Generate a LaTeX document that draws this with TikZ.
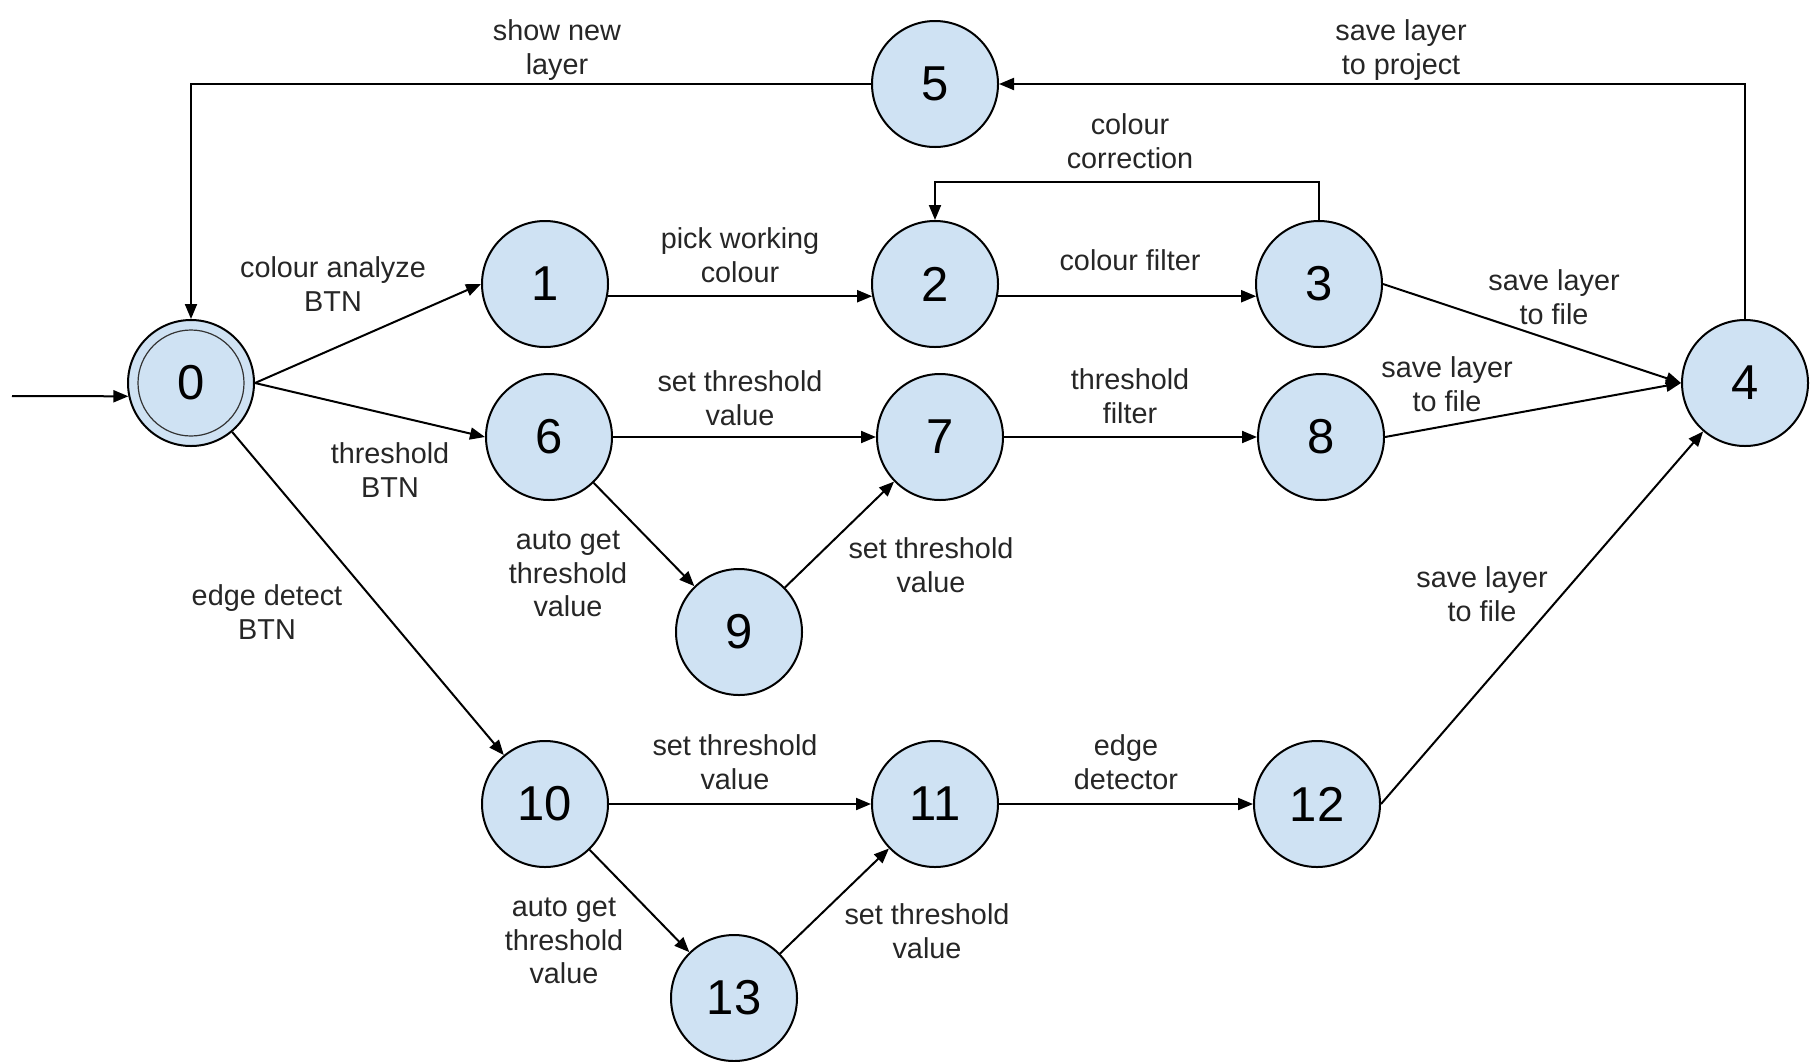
\documentclass[tikz,border=0pt]{standalone}
\usepackage{fontspec}
\setmainfont{Liberation Sans}
\usetikzlibrary{arrows.meta}
\definecolor{statefill}{HTML}{CFE2F3}

\begin{document}
\begin{tikzpicture}[x=0.5pt,y=-0.5pt,
    st/.style={circle,draw,line width=1pt,fill=statefill,minimum size=63pt,inner sep=0pt,
        font=\fontsize{24.5}{28}\selectfont},
    lbl/.style={align=center,inner sep=0pt,text=black!85,font=\fontsize{14.4}{16.8}\selectfont},
    trans/.style={line width=1pt,-{Triangle[length=7.5pt,width=6pt]}}]
    \useasboundingbox (0,0) rectangle (1819,1061);

    % states
    \node[st] (n0) at (191,383) {0};
    \draw[line width=0.6pt,black!80] (n0) circle (26.5pt);
    \node[st] (n1) at (545,284) {1};
    \node[st] (n2) at (935,284) {2};
    \node[st] (n3) at (1319,284) {3};
    \node[st] (n4) at (1745,383) {4};
    \node[st] (n5) at (935,84) {5};
    \node[st] (n6) at (549,437) {6};
    \node[st] (n7) at (940,437) {7};
    \node[st] (n8) at (1321,437) {8};
    \node[st] (n9) at (739,632) {9};
    \node[st] (n10) at (545,804) {10};
    \node[st] (n11) at (935,804) {11};
    \node[st] (n12) at (1317,804) {12};
    \node[st] (n13) at (734,998) {13};

    \coordinate (start) at (12,396);
    \coordinate (loop) at (1130,182);

    % transitions
    \draw[trans] (start) -- (n0.192);
    \draw[trans] (n0.east) -- (n1.west);
    \draw[trans] (n0.east) -- (n6.west);
    \draw[trans] (n0) -- (n10);
    \draw[trans] (n1.-11) -- (n2.191);
    \draw[trans] (n2.-11) -- (n3.191);
    \draw[trans] (n3.north) |- (loop) -| (n2.north);
    \draw[trans] (n3.east) -- (n4.west);
    \draw[trans] (n4.north) |- (n5.east);
    \draw[trans] (n5.west) -| (n0.north);
    \draw[trans] (n6) -- (n7);
    \draw[trans] (n6) -- (n9);
    \draw[trans] (n9) -- (n7);
    \draw[trans] (n7) -- (n8);
    \draw[trans] (n8.east) -- (n4.west);
    \draw[trans] (n10) -- (n11);
    \draw[trans] (n10) -- (n13);
    \draw[trans] (n13) -- (n11);
    \draw[trans] (n11) -- (n12);
    \draw[trans] (n12.east) -- (n4);

    % labels
    \node[lbl] (l50) at (557,50) {show new\\layer};
    \node[lbl] (l45) at (1401,50) {save layer\\to project};
    \node[lbl] (l32) at (1130,141) {colour\\correction};
    \node[lbl] (l01) at (333,284) {colour analyze\\BTN};
    \node[lbl] (l12) at (740,255) {pick working\\colour};
    \node[lbl] (l23) at (1130,260) {colour filter};
    \node[lbl] (l34) at (1554,297) {save layer\\to file};
    \node[lbl] (l06) at (390,470) {threshold\\BTN};
    \node[lbl] (l67) at (740,398) {set threshold\\value};
    \node[lbl] (l78) at (1130,396) {threshold\\filter};
    \node[lbl] (l84) at (1447,384) {save layer\\to file};
    \node[lbl] (l69) at (568,574) {auto get\\threshold\\value};
    \node[lbl] (l97) at (931,565) {set threshold\\value};
    \node[lbl] (l010) at (267,612) {edge detect\\BTN};
    \node[lbl] (l124) at (1482,594) {save layer\\to file};
    \node[lbl] (l1011) at (735,762) {set threshold\\value};
    \node[lbl] (l1112) at (1126,762) {edge\\detector};
    \node[lbl] (l1013) at (564,941) {auto get\\threshold\\value};
    \node[lbl] (l1311) at (927,931) {set threshold\\value};
\end{tikzpicture}
\end{document}
